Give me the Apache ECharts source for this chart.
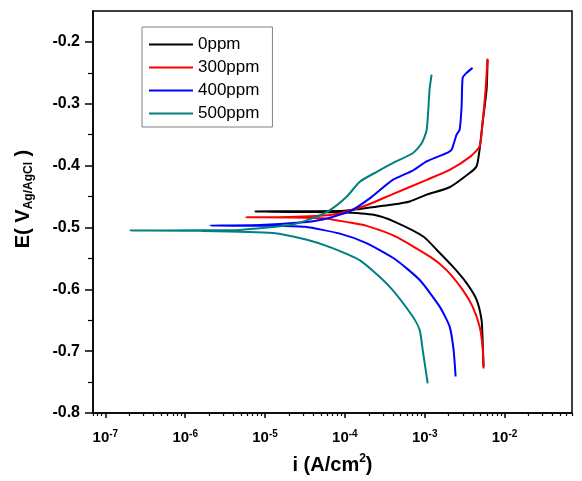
<!DOCTYPE html>
<html>
<head>
<meta charset="utf-8">
<script src="https://cdn.jsdelivr.net/npm/echarts@6/dist/echarts.min.js"></script>
<style>
html,body{margin:0;padding:0;background:#fff;}
#chart{width:582px;height:481px;}
</style>
</head>
<body>
<div id="chart"></div>
<script>
// ---- data (current density in A/cm2, potential in V vs Ag/AgCl) ----
const seriesNames = ['0ppm', '300ppm', '400ppm', '500ppm'];
const seriesColors = ['#000000', '#ff0000', '#0000ff', '#008080'];

const current0 = [5.46e-3, 5.31e-3, 5.16e-3, 4.47e-3, 3.35e-3, 2.24e-3, 1.41e-3, 9.7e-4, 4.22e-4, 2.37e-4, 8.66e-5, 2.74e-5, 7.5e-6,
                  2.74e-5, 1.0e-4, 1.54e-4, 3.98e-4, 6.5e-4, 1.06e-3, 2.05e-3, 3.65e-3, 4.47e-3, 4.87e-3, 5.31e-3, 5.96e-3, 6.13e-3];
const potential0 = [-0.725, -0.682, -0.650, -0.617, -0.590, -0.563, -0.536, -0.515, -0.491, -0.480, -0.4756, -0.475, -0.474,
                    -0.4738, -0.473, -0.470, -0.463, -0.458, -0.447, -0.435, -0.412, -0.401, -0.374, -0.331, -0.277, -0.229];

const current300 = [5.46e-3, 5.31e-3, 4.87e-3, 3.98e-3, 2.99e-3, 1.88e-3, 1.19e-3, 4.22e-4, 1.83e-4, 1.15e-4, 5.31e-5, 2.05e-5, 5.75e-6,
                    2.05e-5, 6.5e-5, 1.15e-4, 2.05e-4, 3.98e-4, 1.06e-3, 2.05e-3, 3.76e-3, 4.87e-3, 5.31e-3, 5.79e-3, 6.13e-3];
const potential300 = [-0.728, -0.693, -0.660, -0.628, -0.601, -0.569, -0.548, -0.514, -0.497, -0.492, -0.485, -0.4837, -0.4834,
                      -0.483, -0.480, -0.473, -0.462, -0.446, -0.423, -0.407, -0.385, -0.369, -0.331, -0.277, -0.227];

const current400 = [2.44e-3, 2.30e-3, 2.05e-3, 1.54e-3, 8.66e-4, 4.22e-4, 1.83e-4, 8.66e-5, 3.16e-5, 1.15e-5, 2.05e-6,
                    8.66e-6, 2.74e-5, 5.31e-5, 1.15e-4, 2.05e-4, 3.98e-4, 7.08e-4, 1.06e-3, 1.94e-3, 2.18e-3, 2.51e-3, 2.74e-3, 2.90e-3, 2.99e-3, 3.35e-3, 3.98e-3];
const potential400 = [-0.741, -0.698, -0.660, -0.628, -0.585, -0.551, -0.525, -0.510, -0.499, -0.4972, -0.497,
                      -0.496, -0.492, -0.487, -0.474, -0.453, -0.423, -0.408, -0.393, -0.379, -0.374, -0.350, -0.342, -0.304, -0.258, -0.250, -0.242];

const current500 = [1.09e-3, 9.44e-4, 8.66e-4, 7.08e-4, 3.65e-4, 1.58e-4, 6.88e-5, 3.35e-5, 1.26e-5, 1.54e-6, 2.05e-7,
                    1.54e-6, 4.87e-6, 2.05e-5, 3.98e-5, 6.5e-5, 1.06e-4, 1.54e-4, 2.51e-4, 3.98e-4, 7.08e-4, 9.17e-4, 1.06e-3, 1.15e-3, 1.22e-3];
const potential500 = [-0.752, -0.698, -0.666, -0.644, -0.596, -0.554, -0.533, -0.520, -0.509, -0.5055, -0.505,
                      -0.5047, -0.504, -0.496, -0.485, -0.472, -0.450, -0.426, -0.410, -0.396, -0.380, -0.364, -0.342, -0.277, -0.253];

// ---- axes ----
const xRange = [7e-8, 7e-2];
const xTickExponents = [-7, -6, -5, -4, -3, -2];
const yRange = [-0.8, -0.15];
const yTickValues = [-0.8, -0.7, -0.6, -0.5, -0.4, -0.3, -0.2];
const yMinorTickValues = [-0.75, -0.65, -0.55, -0.45, -0.35, -0.25];

const currents = [current0, current300, current400, current500];
const potentials = [potential0, potential300, potential400, potential500];

const xMinLog = Math.log10(xRange[0]);
const xMaxLog = Math.log10(xRange[1]);
const xMinorTicks = [];
for (let n = -8; n <= -2; n++) {
  for (let k = 2; k <= 9; k++) {
    const v = n + Math.log10(k);
    if (v >= xMinLog - 1e-9 && v <= xMaxLog + 1e-9) xMinorTicks.push(v);
  }
}

const FONT = '"Liberation Sans", Arial, sans-serif';

const series = seriesNames.map((name, s) => ({
  name: name,
  type: 'line',
  xAxisIndex: 0,
  yAxisIndex: 0,
  symbol: 'none',
  showSymbol: false,
  smooth: 0.2,
  lineStyle: { color: seriesColors[s], width: 2 },
  itemStyle: { color: seriesColors[s] },
  data: currents[s].map((c, j) => [Math.log10(c), potentials[s][j]])
}));

const gridRect = { left: 93, right: 10, top: 11, bottom: 68 };

const option = {
  animation: false,
  backgroundColor: '#ffffff',
  textStyle: { fontFamily: FONT },
  grid: [
    Object.assign({ show: true, borderColor: '#000', borderWidth: 1.5, backgroundColor: 'transparent', containLabel: false }, gridRect),
    Object.assign({ show: false, containLabel: false }, gridRect)
  ],
  legend: {
    orient: 'vertical',
    left: 142,
    top: 27,
    padding: [9, 13, 5, 7],
    itemWidth: 44,
    itemHeight: 2,
    itemGap: 6,
    borderColor: '#808080',
    borderWidth: 1,
    backgroundColor: '#ffffff',
    textStyle: { fontFamily: FONT, fontSize: 17, color: '#000' },
    data: seriesNames.map((n, i) => ({ name: n, icon: 'rect', itemStyle: { color: seriesColors[i] } }))
  },
  xAxis: [
    {
      type: 'value',
      gridIndex: 0,
      min: xMinLog,
      max: xMaxLog,
      position: 'bottom',
      splitLine: { show: false },
      axisLine: { show: true, onZero: false, lineStyle: { color: '#000', width: 1.5 } },
      axisTick: { show: true, inside: false, length: 5, customValues: xTickExponents, lineStyle: { color: '#000', width: 1.5 } },
      axisLabel: {
        show: true,
        margin: 16,
        customValues: xTickExponents,
        formatter: v => '{b|10}{s|' + Math.round(v) + '}',
        rich: {
          b: { fontFamily: FONT, fontSize: 15, fontWeight: 'bold', color: '#000', lineHeight: 17 },
          s: { fontFamily: FONT, fontSize: 10, fontWeight: 'bold', color: '#000', lineHeight: 7, verticalAlign: 'top' }
        }
      },
      name: '{b|i (A/cm}{s|2}{b|)}',
      nameLocation: 'middle',
      nameGap: 40,
      nameTextStyle: {
        rich: {
          b: { fontFamily: FONT, fontSize: 20, fontWeight: 'bold', color: '#000', lineHeight: 24 },
          s: { fontFamily: FONT, fontSize: 12, fontWeight: 'bold', color: '#000', lineHeight: 10, verticalAlign: 'top' }
        }
      }
    },
    {
      type: 'value',
      gridIndex: 1,
      min: xMinLog,
      max: xMaxLog,
      position: 'bottom',
      splitLine: { show: false },
      axisLine: { show: false, onZero: false },
      axisTick: { show: true, inside: false, length: 3, customValues: xMinorTicks, lineStyle: { color: '#000', width: 1.2 } },
      axisLabel: { show: false }
    }
  ],
  yAxis: [
    {
      type: 'value',
      gridIndex: 0,
      min: yRange[0],
      max: yRange[1],
      position: 'left',
      splitLine: { show: false },
      axisLine: { show: true, onZero: false, lineStyle: { color: '#000', width: 1.5 } },
      axisTick: { show: true, inside: false, length: 8, customValues: yTickValues, lineStyle: { color: '#000', width: 1.5 } },
      axisLabel: {
        show: true,
        margin: 13,
        customValues: yTickValues,
        formatter: v => v.toFixed(1),
        fontFamily: FONT, fontSize: 16, fontWeight: 'bold', color: '#000'
      },
      name: '{b|E( V}{sub|Ag/AgCl}{b| )}',
      nameLocation: 'middle',
      nameRotate: 90,
      nameGap: 58,
      nameTextStyle: {
        padding: [0, 0, 0, 26],
        rich: {
          b: { fontFamily: FONT, fontSize: 20, fontWeight: 'bold', color: '#000', lineHeight: 24 },
          sub: { fontFamily: FONT, fontSize: 12, fontWeight: 'bold', color: '#000', lineHeight: 12, verticalAlign: 'bottom' }
        }
      }
    },
    {
      type: 'value',
      gridIndex: 1,
      min: yRange[0],
      max: yRange[1],
      position: 'left',
      splitLine: { show: false },
      axisLine: { show: false, onZero: false },
      axisTick: { show: true, inside: false, length: 5, customValues: yMinorTickValues, lineStyle: { color: '#000', width: 1.2 } },
      axisLabel: { show: false }
    }
  ],
  series: series
};

const chart = echarts.init(document.getElementById('chart'), null, { renderer: 'canvas' });
chart.setOption(option);
</script>
</body>
</html>
